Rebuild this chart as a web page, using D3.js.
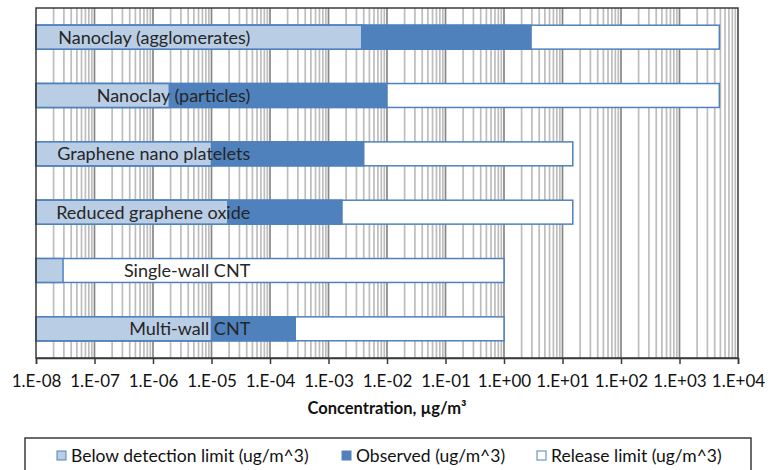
<!DOCTYPE html>
<html>
<head>
<meta charset="utf-8">
<script src="https://cdn.jsdelivr.net/npm/d3@7"></script>
<style>
  body { margin: 0; background: #fff; }
  svg { display: block; font-family: Lato, "Liberation Sans", sans-serif; }
</style>
</head>
<body>
<div id="chart"></div>
<script>
// values (ug/m^3)
var categories = ["Nanoclay (agglomerates)", "Nanoclay (particles)", "Graphene nano platelets",
                  "Reduced graphene oxide", "Single-wall CNT", "Multi-wall CNT"];
var belowDetection = [3.7e-3, 1.9e-6, 1.0e-5, 1.9e-5, 2.9e-8, 1.0e-5];
var observed       = [2.9, 1.0e-2, 4.0e-3, 1.7e-3, null, 2.7e-4];
var releaseLimit   = [4800, 4800, 15, 15, 1, 1];
var tickValues = [1e-8, 1e-7, 1e-6, 1e-5, 1e-4, 1e-3, 1e-2, 1e-1, 1e0, 1e1, 1e2, 1e3, 1e4];
var tickLabels = ["1.E-08", "1.E-07", "1.E-06", "1.E-05", "1.E-04", "1.E-03", "1.E-02",
                  "1.E-01", "1.E+00", "1.E+01", "1.E+02", "1.E+03", "1.E+04"];
var seriesNames = ["Below detection limit (ug/m^3)", "Observed (ug/m^3)", "Release limit (ug/m^3)"];

var light = "#b9cde5", dark = "#4f81bd";

var width = 774, height = 470;
var margin = {top: 8, right: 36, bottom: 112, left: 36};
var w = width - margin.left - margin.right,
    h = height - margin.top - margin.bottom;

var svg = d3.select("#chart").append("svg").attr("width", width).attr("height", height);
var g = svg.append("g").attr("transform", "translate(" + margin.left + "," + margin.top + ")");

var x = d3.scaleLog().domain([1e-8, 1e4]).range([0, w]);
var y = d3.scaleBand().domain(categories).range([0, h]).paddingInner(0.59).paddingOuter(0.295);

// gridlines: minor then decades
var minor = [];
for (var e = -8; e < 4; e++) for (var k = 2; k < 10; k++) minor.push(k * Math.pow(10, e));
g.append("g").selectAll("line").data(minor).enter().append("line")
  .attr("x1", function(d) { return x(d); }).attr("x2", function(d) { return x(d); })
  .attr("y1", 0).attr("y2", h)
  .attr("stroke", "#bdbdbd").attr("stroke-width", 1.7);
g.append("g").selectAll("line").data(tickValues.slice(1, -1)).enter().append("line")
  .attr("x1", function(d) { return x(d); }).attr("x2", function(d) { return x(d); })
  .attr("y1", 0).attr("y2", h)
  .attr("stroke", "#868686").attr("stroke-width", 1.7);

var rows = categories.map(function(c, i) {
  return {cat: c, below: belowDetection[i], obs: observed[i], rel: releaseLimit[i]};
});

// release limit (back), observed, below detection (front)
g.append("g").selectAll("rect").data(rows).enter().append("rect")
  .attr("x", x(1e-8)).attr("y", function(d) { return y(d.cat); })
  .attr("width", function(d) { return x(d.rel) - x(1e-8); })
  .attr("height", y.bandwidth())
  .attr("fill", "#fff").attr("stroke", dark).attr("stroke-width", 1.5);

g.append("g").selectAll("rect").data(rows.filter(function(d) { return d.obs; })).enter().append("rect")
  .attr("x", x(1e-8)).attr("y", function(d) { return y(d.cat); })
  .attr("width", function(d) { return x(d.obs) - x(1e-8); })
  .attr("height", y.bandwidth())
  .attr("fill", dark).attr("stroke", dark).attr("stroke-width", 1.5);

g.append("g").selectAll("rect").data(rows).enter().append("rect")
  .attr("x", x(1e-8)).attr("y", function(d) { return y(d.cat); })
  .attr("width", function(d) { return x(d.below) - x(1e-8); })
  .attr("height", y.bandwidth())
  .attr("fill", light).attr("stroke", dark).attr("stroke-width", 1.5);

// category names inside the bars, right aligned
g.append("g").selectAll("text").data(rows).enter().append("text")
  .attr("x", x(4.6e-5)).attr("y", function(d) { return y(d.cat) + y.bandwidth() / 2; })
  .attr("dy", "0.36em").attr("text-anchor", "end")
  .attr("font-size", 18).attr("fill", "#262626")
  .text(function(d) { return d.cat; });

// frame
g.append("rect").attr("width", w).attr("height", h)
  .attr("fill", "none").attr("stroke", "#3a3a3a").attr("stroke-width", 1.5);

// x axis
var axis = g.append("g").attr("transform", "translate(0," + h + ")")
  .call(d3.axisBottom(x).tickValues(tickValues).tickSize(6).tickPadding(11)
        .tickFormat(function(d, i) { return tickLabels[i]; }));
axis.select(".domain").attr("stroke", "#3a3a3a").attr("stroke-width", 1.5);
axis.selectAll(".tick line").attr("stroke", "#3a3a3a").attr("stroke-width", 1.5);
axis.selectAll(".tick text").attr("font-size", 17).attr("fill", "#111")
  .style("font-family", "Lato, sans-serif");

svg.append("text")
  .attr("x", margin.left + w / 2).attr("y", 414)
  .attr("text-anchor", "middle").attr("font-size", 16.5).attr("font-weight", "bold")
  .attr("fill", "#111")
  .text("Concentration, \u00b5g/m\u00b3");

// legend
var legend = svg.append("g");
legend.append("rect").attr("x", 25).attr("y", 438).attr("width", 726).attr("height", 40)
  .attr("fill", "#fff").attr("stroke", "#3a3a3a").attr("stroke-width", 1.5);
var legendX = [57, 342, 537];
var legendFill = [light, dark, "#fff"];
var item = legend.selectAll("g.item").data(seriesNames).enter().append("g")
  .attr("transform", function(d, i) { return "translate(" + legendX[i] + ",451)"; });
item.append("rect").attr("width", 9).attr("height", 9)
  .attr("fill", function(d, i) { return legendFill[i]; })
  .attr("stroke", dark).attr("stroke-width", 1);
item.append("text").attr("x", 14).attr("y", 4.5).attr("dy", "0.36em")
  .attr("font-size", 17.5).attr("fill", "#111")
  .text(function(d) { return d; });
</script>
</body>
</html>
